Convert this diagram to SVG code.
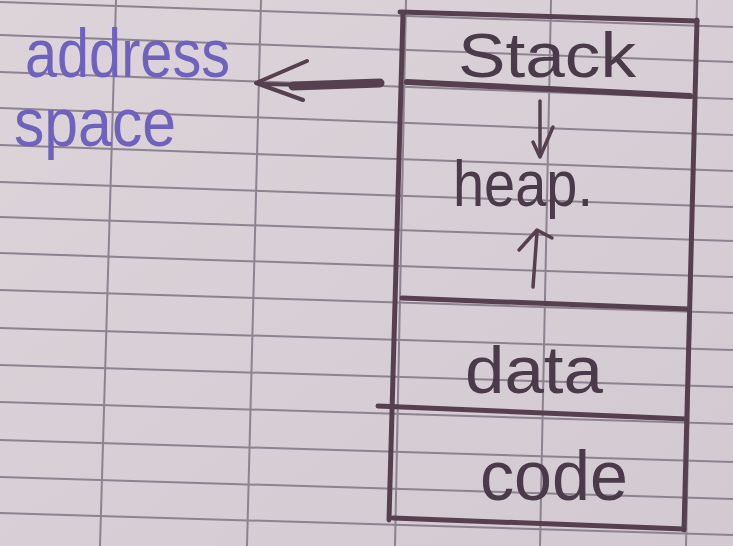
<svg xmlns="http://www.w3.org/2000/svg" width="733" height="546" viewBox="0 0 733 546">
<defs>
<linearGradient id="paper" x1="0" y1="0" x2="1" y2="1">
<stop offset="0" stop-color="#ddd4da"/>
<stop offset="1" stop-color="#d3c9d1"/>
</linearGradient>
<style>
.grid{stroke:#8d8290;stroke-width:2;fill:none}
.ink{stroke:#56404f;fill:none;stroke-linecap:round;stroke-linejoin:round}
.box{stroke-width:5}
.txt{font-family:"Liberation Sans",Arial,sans-serif;fill:#4b3a49}
.blue{font-family:"Liberation Sans",Arial,sans-serif;fill:#6e62bd}
</style>
</defs>
<rect x="0" y="0" width="733" height="546" fill="url(#paper)"/>
<g id="grid" class="grid">
<path d="M0,2 L733,27"/>
<path d="M0,35 L733,62"/>
<path d="M0,72 L733,99"/>
<path d="M0,108 L733,135"/>
<path d="M0,145 L733,171"/>
<path d="M0,182 L733,207"/>
<path d="M0,217 L733,241"/>
<path d="M0,253 L733,277"/>
<path d="M0,290 L733,313"/>
<path d="M0,328 L733,350"/>
<path d="M0,365 L733,387"/>
<path d="M0,402 L733,424"/>
<path d="M0,440 L733,462"/>
<path d="M0,477 L733,499"/>
<path d="M0,513 L733,535"/>
<path d="M116,0 L100,546"/>
<path d="M261,0 L247,546"/>
<path d="M406,0 L395,546"/>
<path d="M551,0 L540,546"/>
<path d="M697,0 L686,546"/>
</g>
<g id="memory-box" class="ink box">
<path d="M400,12 L697,21"/>
<path d="M403,14 L389,520"/>
<path d="M697,20 L684,530"/>
<path d="M393,518 L684,529"/>
</g>
<g id="stack">
<path class="ink" d="M407,82 L690,96" stroke-width="6"/>
<text class="txt" transform="translate(458,77) scale(1,1.15)" font-size="54" textLength="178" lengthAdjust="spacingAndGlyphs">Stack</text>
</g>
<g id="heap">
<path class="ink box" d="M402,298 L688,309"/>
<text class="txt" transform="translate(453,206) scale(1,1.25)" font-size="52" textLength="140" lengthAdjust="spacingAndGlyphs">heap.</text>
</g>
<g id="data">
<path class="ink box" d="M378,406 L686,419"/>
<text class="txt" transform="translate(465,393) scale(1,1.25)" font-size="54" textLength="138" lengthAdjust="spacingAndGlyphs">data</text>
</g>
<g id="code">
<text class="txt" transform="translate(480,500) scale(1,1.3)" font-size="54" textLength="148" lengthAdjust="spacingAndGlyphs">code</text>
</g>
<g id="address-space">
<text class="blue" transform="translate(25,77) scale(1,1.3)" font-size="52" textLength="205" lengthAdjust="spacingAndGlyphs">address</text>
<text class="blue" transform="translate(14,146) scale(1,1.3)" font-size="52" textLength="162" lengthAdjust="spacingAndGlyphs">space</text>
</g>
<g id="connectors" class="ink">
<path d="M380,83 L293,86" stroke-width="9"/>
<path d="M305,85 L262,84" stroke-width="4"/>
<path d="M307,61 L256,83 L303,100" stroke-width="4"/>
<path d="M540,101 L540,156" stroke-width="3.5"/>
<path d="M533,142 L540,157 L553,127" stroke-width="3.5"/>
<path d="M533,287 L537,232" stroke-width="3.5"/>
<path d="M519,250 L537,230 L552,238" stroke-width="3.5"/>
</g>
</svg>
